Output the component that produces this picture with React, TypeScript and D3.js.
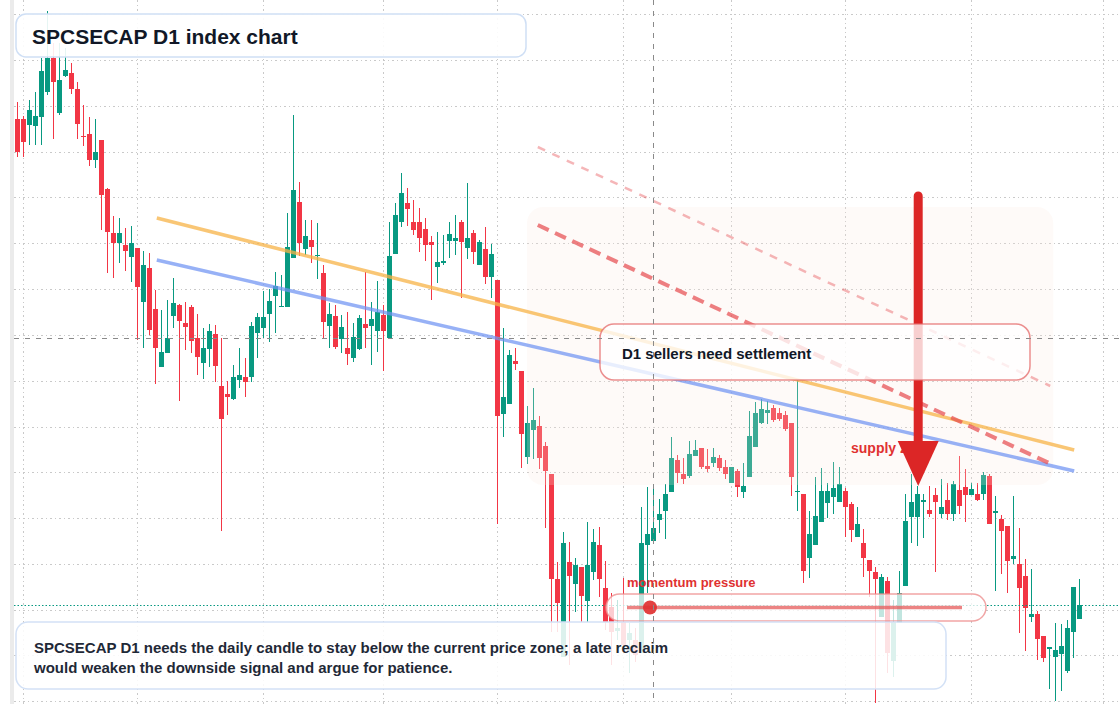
import React from 'react';
import * as d3 from 'd3';

const WIDTH = 1120;
const HEIGHT = 704;

const UP = '#089981';
const DOWN = '#f23645';
const FONT = "'Liberation Sans', Arial, sans-serif";

// daily bars, oldest first: [open, high, low, close]
const BARS: [number, number, number, number][] = [
  [881, 898, 843, 848], [881, 884, 843, 858], [875, 900, 855, 890], [874, 908, 855, 884],
  [883, 942, 855, 929], [908, 989, 905, 942], [942, 957, 861, 918], [887, 957, 885, 920],
  [924, 952, 923, 930], [927, 937, 906, 911], [911, 918, 861, 876], [864, 895, 854, 863],
  [866, 883, 834, 840], [840, 881, 832, 848], [860, 860, 770, 805], [811, 812, 727, 768],
  [767, 784, 722, 757], [757, 782, 737, 767], [755, 772, 729, 749], [743, 774, 718, 757],
  [752, 752, 660, 713], [698, 749, 652, 735], [732, 747, 665, 670], [691, 710, 616, 652],
  [633, 690, 633, 648], [647, 700, 647, 662], [684, 722, 672, 697], [695, 696, 599, 679],
  [677, 698, 650, 673], [693, 695, 647, 659], [662, 686, 625, 643], [637, 672, 621, 652],
  [651, 676, 633, 669], [666, 675, 618, 634], [614, 662, 469, 581], [606, 619, 585, 603],
  [601, 635, 600, 623], [620, 652, 612, 625], [623, 642, 603, 618], [623, 678, 618, 674],
  [667, 687, 642, 683], [672, 709, 662, 683], [686, 711, 658, 699], [704, 728, 667, 714],
  [693, 725, 693, 694], [693, 787, 693, 753], [742, 885, 742, 810], [798, 818, 744, 757],
  [751, 780, 745, 764], [760, 780, 737, 753], [744, 777, 721, 745], [727, 735, 662, 678],
  [674, 697, 652, 686], [684, 695, 651, 653], [661, 685, 647, 673], [652, 688, 635, 646],
  [642, 677, 638, 663], [651, 685, 650, 682], [676, 728, 652, 672], [674, 698, 635, 681],
  [669, 719, 648, 688], [685, 695, 629, 669], [662, 778, 662, 744], [746, 797, 746, 785],
  [778, 827, 773, 807], [797, 812, 774, 791], [778, 800, 765, 770], [778, 792, 748, 762],
  [771, 782, 739, 755], [758, 764, 700, 755], [733, 768, 717, 738], [737, 765, 735, 739],
  [759, 778, 742, 766], [759, 785, 745, 762], [778, 780, 702, 758], [752, 817, 741, 762],
  [767, 770, 736, 748], [735, 760, 735, 758], [751, 773, 716, 723], [723, 756, 702, 746],
  [720, 720, 476, 584], [586, 672, 563, 603], [596, 650, 596, 645], [639, 652, 630, 636],
  [629, 629, 532, 566], [543, 594, 536, 577], [570, 612, 541, 580], [574, 584, 531, 542],
  [554, 558, 472, 529], [526, 526, 368, 421], [421, 438, 368, 397], [343, 468, 343, 457],
  [438, 458, 335, 424], [416, 442, 388, 435], [433, 433, 378, 404], [399, 478, 378, 435],
  [428, 471, 420, 458], [455, 473, 403, 421], [412, 439, 370, 378], [393, 407, 335, 368],
  [369, 400, 360, 372], [378, 422, 353, 355], [360, 377, 327, 367], [360, 372, 338, 345],
  [347, 493, 347, 457], [455, 513, 407, 466], [459, 516, 459, 472], [480, 501, 467, 486],
  [489, 516, 461, 506], [508, 563, 508, 542], [540, 545, 517, 527], [526, 542, 516, 521],
  [524, 559, 522, 546], [544, 560, 544, 550], [552, 552, 531, 533], [534, 551, 528, 531],
  [537, 552, 533, 543], [542, 545, 529, 532], [533, 540, 521, 526], [517, 533, 517, 533],
  [529, 531, 503, 513], [508, 537, 502, 514], [523, 589, 523, 564], [553, 598, 553, 587],
  [577, 601, 576, 591], [587, 599, 576, 590], [592, 595, 578, 580], [587, 592, 579, 581],
  [585, 589, 569, 571], [577, 577, 504, 523], [508, 620, 489, 509], [506, 506, 417, 429],
  [442, 489, 422, 466], [455, 523, 455, 484], [478, 532, 478, 509], [497, 517, 482, 509],
  [503, 538, 486, 512], [498, 533, 498, 516], [509, 512, 463, 493], [496, 498, 458, 470],
  [463, 493, 463, 476], [457, 471, 423, 442], [440, 440, 403, 429], [428, 433, 297, 421],
  [383, 426, 383, 423], [419, 423, 327, 347], [339, 400, 323, 378], [377, 429, 377, 407],
  [414, 506, 414, 479], [483, 526, 457, 498], [483, 514, 454, 506], [498, 506, 462, 500],
  [490, 514, 483, 486], [505, 512, 428, 498], [486, 521, 482, 493], [500, 517, 480, 486],
  [486, 519, 479, 516], [510, 544, 486, 494], [513, 531, 478, 505], [505, 517, 505, 511],
  [506, 517, 499, 500], [506, 528, 500, 525], [524, 526, 476, 476], [487, 504, 409, 489],
  [481, 485, 426, 469], [474, 474, 407, 439], [441, 504, 436, 444], [436, 472, 367, 412],
  [424, 441, 349, 392], [383, 431, 378, 386], [386, 389, 340, 361], [364, 364, 338, 342],
  [351, 353, 311, 353], [343, 377, 299, 350], [346, 376, 309, 354], [329, 380, 327, 372],
  [368, 413, 342, 413], [381, 421, 381, 395],
];

// month separators (bar positions) and price grid levels
const MONTH_BREAKS = [1, 20, 41, 61, 80, 101, 119, 138, 159, 181];
const PRICE_GRID = [986, 940, 894, 848, 803, 757, 711, 665, 619, 573, 528, 482, 436, 390, 345, 299];

const CROSSHAIR_BAR = 106;
const CROSSHAIR_PRICE = 662;

// drawn levels: [bar, price] end points
const UPPER_TREND: [number, number][] = [[23.3, 782], [176.2, 550]];
const LOWER_TREND: [number, number][] = [[23.3, 740], [176.2, 529]];
const SELL_CHANNEL: [number, number][] = [[86.8, 775], [172.7, 535]];
const SELL_CHANNEL_TOP: [number, number][] = [[86.8, 853], [172.2, 614]];

// supply zone box: bars and prices
const ZONE_BARS = [85, 172.7];
const ZONE_PRICES = [793, 515];

// projected move
const ARROW_BAR = 150.2;
const ARROW_PRICES = [804, 514];

const TITLE = 'SPCSECAP D1 index chart';
const NOTE_LINES = [
  'SPCSECAP D1 needs the daily candle to stay below the current price zone; a late reclaim',
  'would weaken the downside signal and argue for patience.',
];

export default function App() {
  const x = d3.scaleLinear().domain([0, BARS.length - 1]).range([17, 17 + 6 * (BARS.length - 1)]);
  const y = d3.scaleLinear().domain([296, 1000]).range([HEIGHT, 0]);
  const line = d3.line<[number, number]>().x((d) => x(d[0])).y((d) => y(d[1]));

  const lastClose = BARS[BARS.length - 1][3];
  const arrowX = x(ARROW_BAR);
  const arrowTop = y(ARROW_PRICES[0]);
  const arrowTip = y(ARROW_PRICES[1]);

  return (
    <svg width={WIDTH} height={HEIGHT} style={{ display: 'block', position: 'absolute', left: 0, top: 0 }}>
      <rect width={WIDTH} height={HEIGHT} fill="#fff" />
      <rect x={10} y={0} width={4} height={HEIGHT} fill="#ebebeb" />

      {/* grid */}
      <g stroke="#c9c9c9" strokeWidth={1} strokeDasharray="1.5 3" shapeRendering="crispEdges">
        {PRICE_GRID.map((p) => (
          <line key={p} x1={14} x2={WIDTH} y1={Math.round(y(p)) + 0.5} y2={Math.round(y(p)) + 0.5} />
        ))}
        {MONTH_BREAKS.map((b) => (
          <line key={b} x1={x(b) + 0.5} x2={x(b) + 0.5} y1={0} y2={HEIGHT} />
        ))}
      </g>

      {/* candles */}
      <g shapeRendering="crispEdges">
        {BARS.map(([o, h, l, c], i) => {
          const cx = Math.round(x(i));
          const color = c >= o ? UP : DOWN;
          const top = y(Math.max(o, c));
          const bottom = y(Math.min(o, c));
          return (
            <g key={i} fill={color} stroke="none">
              <rect x={cx} y={y(h)} width={1} height={y(l) - y(h)} />
              <rect x={cx - 2} y={top} width={5} height={Math.max(1, bottom - top)} />
            </g>
          );
        })}
      </g>

      {/* supply zone wash */}
      <rect
        x={x(ZONE_BARS[0])}
        y={y(ZONE_PRICES[0])}
        width={x(ZONE_BARS[1]) - x(ZONE_BARS[0])}
        height={y(ZONE_PRICES[1]) - y(ZONE_PRICES[0])}
        rx={16}
        fill="rgb(250,234,222)"
        fillOpacity={0.22}
      />

      {/* trend lines */}
      <path d={line(UPPER_TREND) || ''} stroke="#f7b347" strokeOpacity={0.75} strokeWidth={3.5} fill="none" />
      <path d={line(LOWER_TREND) || ''} stroke="#6f93f2" strokeOpacity={0.72} strokeWidth={3.5} fill="none" />
      <path d={line(SELL_CHANNEL_TOP) || ''} stroke="#e5484d" strokeOpacity={0.4} strokeWidth={2.5} strokeDasharray="8 8" fill="none" />
      <path d={line(SELL_CHANNEL) || ''} stroke="#e5484d" strokeOpacity={0.7} strokeWidth={4} strokeDasharray="12 7" fill="none" />

      {/* last price */}
      <line
        x1={14}
        x2={WIDTH}
        y1={Math.round(y(lastClose)) + 0.5}
        y2={Math.round(y(lastClose)) + 0.5}
        stroke={UP}
        strokeWidth={1.2}
        strokeDasharray="1.5 2"
      />

      {/* supply label and arrow */}
      <text x={851} y={453} fontFamily={FONT} fontSize={14} fontWeight={700} fill="#e03131">
        supply zone
      </text>
      <line x1={arrowX} x2={arrowX} y1={arrowTop} y2={arrowTip - 40} stroke="#dc2626" strokeWidth={9} strokeLinecap="round" />
      <path
        d={`M${arrowX - 20.5},${arrowTip - 45} L${arrowX + 20.5},${arrowTip - 45} L${arrowX},${arrowTip} Z`}
        fill="#dc2626"
      />

      {/* callout */}
      <rect x={600} y={324} width={430} height={56} rx={14} fill="#fff" fillOpacity={0.78} stroke="#e46a6a" strokeOpacity={0.75} strokeWidth={1.5} />
      <text x={622} y={359} fontFamily={FONT} fontSize={15} fontWeight={700} fill="#111827">
        D1 sellers need settlement
      </text>

      {/* title */}
      <rect x={16} y={14} width={510} height={43} rx={10} fill="#fff" fillOpacity={0.9} stroke="#cfdff5" strokeWidth={1.5} />
      <text x={32} y={44} fontFamily={FONT} fontSize={21} fontWeight={700} fill="#111827">
        {TITLE}
      </text>

      {/* momentum gauge */}
      <text x={627} y={587} fontFamily={FONT} fontSize={13} fontWeight={700} fill="#e03131">
        momentum pressure
      </text>
      <rect x={606} y={594} width={380} height={27} rx={13.5} fill="#fff" fillOpacity={0.75} stroke="#ee8f8f" strokeOpacity={0.8} strokeWidth={1.5} />
      <line x1={627} x2={962} y1={607.5} y2={607.5} stroke="#e55a5a" strokeOpacity={0.75} strokeWidth={3.5} />
      <circle cx={650} cy={607.5} r={7} fill="#e03131" fillOpacity={0.92} />

      {/* note */}
      <rect x={16} y={622} width={930} height={67} rx={12} fill="#fff" fillOpacity={0.86} stroke="#d3e1f6" strokeWidth={1.5} />
      {NOTE_LINES.map((t, i) => (
        <text key={i} x={34} y={653 + i * 20} fontFamily={FONT} fontSize={15} fontWeight={700} fill="#1f2937">
          {t}
        </text>
      ))}

      {/* crosshair */}
      <g stroke="#8a8a8a" strokeWidth={1} strokeDasharray="5 6" shapeRendering="crispEdges">
        <line x1={14} x2={WIDTH} y1={Math.round(y(CROSSHAIR_PRICE)) + 0.5} y2={Math.round(y(CROSSHAIR_PRICE)) + 0.5} />
        <line x1={x(CROSSHAIR_BAR) + 0.5} x2={x(CROSSHAIR_BAR) + 0.5} y1={0} y2={HEIGHT} />
      </g>
    </svg>
  );
}
